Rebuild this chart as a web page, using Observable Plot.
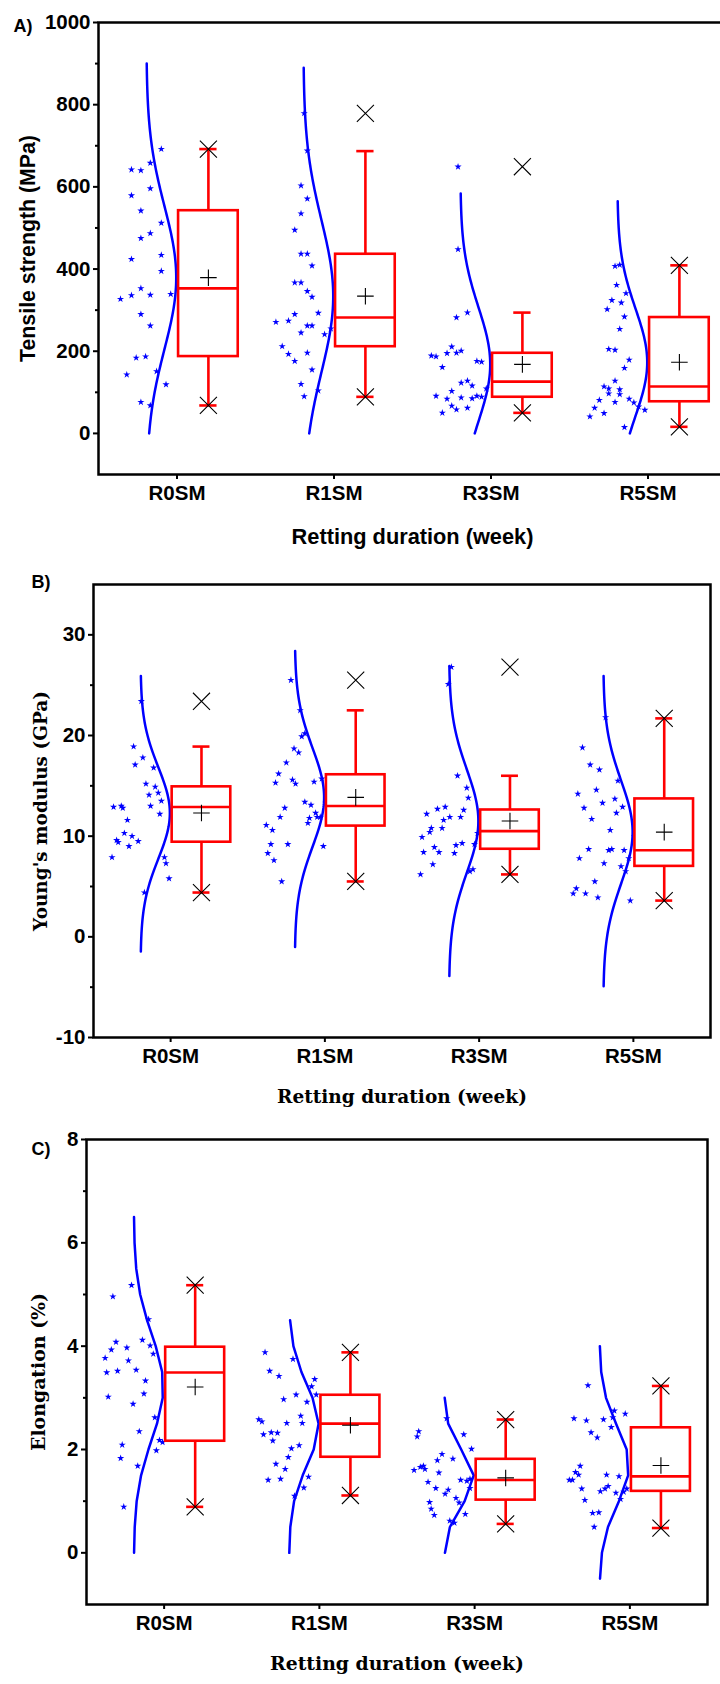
<!DOCTYPE html>
<html><head><meta charset="utf-8">
<script src="https://cdn.jsdelivr.net/npm/d3@7"></script>
<script src="https://cdn.jsdelivr.net/npm/@observablehq/plot@0.6"></script>
<style>
html,body{margin:0;padding:0;background:#fff;}
#chart svg{display:block;}
</style></head><body><div id="chart"></div>
<script>
// ---------- categories ----------
const groups = ["R0SM", "R1SM", "R3SM", "R5SM"];

// ---------- Panel A: tensile strength (MPa) — individual fibres [value, horizontal jitter] ----------
const tsR0SM = [[692,-0.10],[642,-0.29],[640,-0.23],[658,-0.17],[579,-0.29],[596,-0.17],[542,-0.23],[512,-0.10],[475,-0.23],[487,-0.17],[424,-0.29],[434,-0.10],[395,-0.10],[327,-0.36],[336,-0.29],[353,-0.23],[337,-0.17],[339,-0.04],[290,-0.23],[262,-0.17],[184,-0.26],[187,-0.20],[143,-0.32],[151,-0.13],[119,-0.07],[76,-0.23],[68,-0.17]];
const tsR1SM = [[779,-0.19],[688,-0.17],[603,-0.21],[571,-0.17],[535,-0.21],[495,-0.25],[437,-0.21],[437,-0.17],[408,-0.14],[367,-0.25],[367,-0.21],[346,-0.17],[332,-0.14],[290,-0.25],[293,-0.10],[271,-0.37],[274,-0.29],[262,-0.17],[262,-0.14],[245,-0.21],[241,-0.06],[255,-0.02],[212,-0.33],[193,-0.29],[176,-0.25],[196,-0.17],[155,-0.14],[120,-0.21],[104,-0.10],[90,-0.19]];
const tsR3SM = [[649,-0.21],[448,-0.21],[282,-0.22],[294,-0.15],[211,-0.25],[189,-0.38],[187,-0.35],[195,-0.28],[196,-0.22],[201,-0.19],[161,-0.31],[176,-0.09],[174,-0.06],[123,-0.19],[128,-0.15],[116,-0.12],[109,-0.03],[91,-0.35],[84,-0.28],[87,-0.19],[85,-0.12],[91,-0.09],[89,-0.06],[103,-0.25],[67,-0.25],[58,-0.22],[62,-0.15],[50,-0.31]];
const tsR5SM = [[407,-0.21],[410,-0.18],[361,-0.20],[341,-0.14],[324,-0.23],[318,-0.17],[302,-0.26],[284,-0.15],[254,-0.18],[205,-0.25],[203,-0.21],[179,-0.12],[159,-0.15],[128,-0.21],[114,-0.28],[109,-0.25],[107,-0.18],[97,-0.25],[95,-0.18],[84,-0.12],[75,-0.09],[65,-0.06],[57,-0.02],[81,-0.31],[62,-0.34],[41,-0.37],[49,-0.28],[76,-0.21],[15,-0.15]];
const tsQ1 = [187, 211, 88, 77];
const tsMed = [353, 282, 126, 114];
const tsQ3 = [542, 436, 195, 282];
const tsWLo = [68, 89, 50, 16];
const tsWHi = [692, 687, 294, 409];
const tsMin = [68, 89, 50, 16];
const tsMax = [692, 779, 649, 409];
const tsMean = [379, 334, 168, 173];
const tsSD = [174, 185, 139, 131];
const tsCurveLo = [0, 0, 0, 0];
const tsCurveHi = [900, 890, 584, 565];
const tsTicks = [0, 200, 400, 600, 800, 1000];
const tsMinor = [100, 300, 500, 700, 900];

// ---------- Panel B: Young's modulus (GPa) ----------
const ymR0SM = [[23.4,-0.19],[18.9,-0.24],[17.8,-0.18],[17.1,-0.23],[16.8,-0.11],[15.2,-0.16],[14.9,-0.10],[14.1,-0.14],[14.3,-0.08],[13.5,-0.06],[13.0,-0.13],[12.2,-0.07],[12.9,-0.37],[13.0,-0.32],[12.8,-0.31],[11.6,-0.28],[10.3,-0.30],[10.0,-0.25],[9.5,-0.21],[9.6,-0.35],[9.4,-0.34],[9.0,-0.27],[7.9,-0.38],[7.9,-0.04],[7.3,-0.03],[5.8,-0.01],[4.4,-0.17]];
const ymR1SM = [[25.5,-0.22],[22.5,-0.16],[20.2,-0.13],[19.9,-0.15],[18.7,-0.20],[18.3,-0.17],[17.3,-0.25],[16.2,-0.30],[15.3,-0.32],[15.6,-0.21],[15.2,-0.19],[15.4,-0.07],[15.7,-0.02],[13.4,-0.13],[13.1,-0.09],[12.8,-0.26],[11.9,-0.29],[12.3,-0.06],[11.9,-0.05],[11.9,-0.03],[11.8,-0.10],[11.3,-0.11],[11.1,-0.38],[10.6,-0.34],[9.2,-0.35],[9.2,-0.24],[9.0,-0.01],[8.3,-0.37],[7.6,-0.33],[5.5,-0.28]];
const ymR3SM = [[26.8,-0.18],[25.1,-0.20],[16.0,-0.14],[14.8,-0.08],[13.8,-0.07],[12.6,-0.10],[12.9,-0.22],[12.7,-0.27],[12.2,-0.34],[11.6,-0.23],[11.9,-0.19],[11.9,-0.12],[10.8,-0.24],[10.8,-0.31],[10.4,-0.32],[9.9,-0.37],[10.3,-0.01],[9.2,-0.03],[9.3,-0.11],[9.1,-0.15],[8.9,-0.29],[8.4,-0.26],[8.4,-0.36],[8.3,-0.16],[7.2,-0.30],[6.2,-0.38],[6.7,-0.04],[6.5,-0.06]];
const ymR5SM = [[21.8,-0.18],[18.8,-0.33],[17.1,-0.28],[16.6,-0.22],[15.5,-0.10],[14.2,-0.36],[14.6,-0.24],[13.7,-0.12],[13.3,-0.20],[12.8,-0.32],[12.9,-0.07],[12.3,-0.11],[11.7,-0.27],[10.6,-0.15],[8.7,-0.29],[8.6,-0.16],[8.7,-0.14],[8.6,-0.06],[7.8,-0.03],[7.8,-0.35],[7.3,-0.19],[7.0,-0.08],[6.5,-0.05],[5.5,-0.25],[4.8,-0.37],[4.3,-0.39],[4.3,-0.31],[3.9,-0.23],[3.6,-0.02]];
const ymQ1 = [9.4, 11.0, 8.7, 7.0];
const ymMed = [12.9, 13.0, 10.5, 8.6];
const ymQ3 = [14.9, 16.1, 12.6, 13.7];
const ymWLo = [4.4, 5.5, 6.2, 3.6];
const ymWHi = [18.9, 22.5, 16.0, 21.7];
const ymMin = [4.4, 5.5, 6.2, 3.6];
const ymMax = [23.4, 25.5, 26.8, 21.7];
const ymMean = [12.3, 13.85, 11.5, 10.4];
const ymSD = [4.55, 4.9, 5.13, 5.13];
const ymCurveLo = [-1.45, -1.0, -3.9, -4.9];
const ymCurveHi = [25.9, 28.4, 26.9, 25.9];
const ymTicks = [-10, 0, 10, 20, 30];
const ymMinor = [-5, 5, 15, 25];

// ---------- Panel C: elongation (%) ----------
const elR0SM = [[5.18,-0.21],[4.96,-0.33],[4.52,-0.10],[4.08,-0.31],[3.93,-0.34],[3.97,-0.24],[4.12,-0.14],[4.01,-0.09],[3.85,-0.07],[3.77,-0.38],[3.72,-0.23],[3.49,-0.37],[3.52,-0.30],[3.54,-0.18],[3.33,-0.12],[3.08,-0.13],[3.02,-0.36],[2.88,-0.20],[2.62,-0.06],[2.35,-0.16],[2.18,-0.03],[2.14,-0.01],[1.98,-0.05],[2.09,-0.27],[1.83,-0.28],[1.68,-0.17],[0.89,-0.26]];
const elR1SM = [[3.88,-0.35],[3.75,-0.17],[3.52,-0.32],[3.42,-0.26],[3.36,-0.03],[3.22,-0.05],[3.06,-0.15],[3.06,-0.02],[2.97,-0.23],[2.92,-0.08],[2.58,-0.39],[2.54,-0.37],[2.51,-0.21],[2.51,-0.11],[2.65,-0.12],[2.29,-0.36],[2.33,-0.31],[2.32,-0.27],[2.17,-0.30],[2.08,-0.13],[2.02,-0.18],[1.85,-0.20],[1.72,-0.28],[1.62,-0.22],[1.41,-0.33],[1.43,-0.25],[1.47,-0.07],[1.26,-0.10],[1.10,-0.16]];
const elR3SM = [[2.35,-0.36],[2.25,-0.37],[2.60,-0.18],[2.29,-0.07],[2.01,-0.02],[1.91,-0.21],[1.79,-0.24],[1.82,-0.14],[1.60,-0.39],[1.66,-0.35],[1.68,-0.33],[1.62,-0.32],[1.55,-0.23],[1.41,-0.09],[1.39,-0.05],[1.43,-0.03],[1.37,-0.30],[1.25,-0.25],[1.25,-0.03],[1.22,-0.17],[1.14,-0.19],[1.06,-0.12],[0.97,-0.10],[0.98,-0.29],[0.85,-0.28],[0.73,-0.26],[0.75,-0.06],[0.62,-0.16],[0.58,-0.13]];
const elR5SM = [[3.24,-0.27],[2.60,-0.36],[2.56,-0.28],[2.58,-0.17],[2.75,-0.10],[2.69,-0.03],[2.62,-0.11],[2.43,-0.12],[2.33,-0.25],[2.23,-0.21],[1.68,-0.32],[1.56,-0.35],[1.51,-0.33],[1.41,-0.39],[1.41,-0.37],[1.51,-0.15],[1.48,-0.07],[1.24,-0.31],[1.19,-0.19],[1.24,-0.16],[1.29,-0.14],[1.16,-0.09],[1.18,-0.04],[1.24,-0.02],[1.04,-0.06],[1.02,-0.29],[0.77,-0.24],[0.78,-0.20],[0.50,-0.23]];
const elQ1 = [2.16, 1.85, 1.02, 1.19];
const elMed = [3.49, 2.50, 1.41, 1.48];
const elQ3 = [3.98, 3.05, 1.81, 2.42];
const elWLo = [0.89, 1.11, 0.56, 0.48];
const elWHi = [5.18, 3.88, 2.58, 3.23];
const elMin = [0.89, 1.11, 0.56, 0.48];
const elMax = [5.18, 3.88, 2.58, 3.23];
const elMean = [3.21, 2.47, 1.45, 1.69];
const elSD = [1.02, 0.78, 0.52, 0.75];
const elCurveLo = [0, 0, 0, -0.5];
const elCurveHi = [6.5, 4.5, 3.0, 4.0];
const elTicks = [0, 2, 4, 6, 8];
const elMinor = [1, 3, 5, 7];

// ---------- styling ----------
const SANS = "'Liberation Sans', Arial, Helvetica, sans-serif";
const SERIF = "'DejaVu Serif', Cambria, Georgia, serif";
const BLUE = "#0000ff", RED = "#ff0000";
const BOX_OFF = 0.2, BOX_HW = 0.19, CAP_HW = 0.055;
const CURVE_BASE = -0.195, CURVE_AMP = 0.19;
const TICK_FONT = 20.5;

// font size that makes a bold title span a given pixel length
const measureCtx = document.createElement("canvas").getContext("2d");
function fitSize(text, family, targetWidth) {
  measureCtx.font = `bold 100px ${family}`;
  return 100 * targetWidth / measureCtx.measureText(text).width;
}

function panel(c) {
  const starRows = c.stars.flatMap((arr, i) => arr.map(([v, dx]) => ({g: i + 1, v, dx})));
  const boxRows = groups.map((name, i) => ({
    g: i + 1, q1: c.q1[i], med: c.med[i], q3: c.q3[i], wlo: c.wlo[i], whi: c.whi[i],
    mn: c.mn[i], mx: c.mx[i], mean: c.mean[i]
  }));
  const curveRows = groups.flatMap((name, i) => {
    const vs = d3.range(c.clo[i], c.chi[i] + c.step * 0.01, c.step);
    if (vs[vs.length - 1] < c.chi[i] - 1e-9) vs.push(c.chi[i]);
    return vs.map(v => ({g: i + 1, v,
      x: i + 1 + CURVE_BASE + CURVE_AMP * Math.exp(-0.5 * ((v - c.mean[i]) / c.sd[i]) ** 2)}));
  });
  const bx = d => d.g + BOX_OFF;
  const yTitleSize = fitSize(c.yTitle, c.titleFont, c.yTitleLen);
  const xTitleSize = fitSize(c.xTitle, c.titleFont, c.xTitleLen);
  return Plot.plot({
    width: 720, height: c.height,
    marginTop: c.mt, marginBottom: c.mb, marginLeft: c.ml, marginRight: c.mr,
    style: {fontFamily: SANS, fontSize: TICK_FONT + "px", fontWeight: "bold", background: "white", color: "black"},
    x: {type: "linear", domain: [0.5, 4.5], axis: null, label: null},
    y: {type: "linear", domain: c.yDomain, axis: null, label: null},
    marks: [
      Plot.dot(starRows, {x: d => d.g + d.dx, y: "v", symbol: "star", r: 2.25, fill: BLUE, stroke: "none"}),
      Plot.line(curveRows, {x: "x", y: "v", z: "g", stroke: BLUE, strokeWidth: 2.5, curve: "linear"}),
      Plot.rect(boxRows, {x1: d => bx(d) - BOX_HW, x2: d => bx(d) + BOX_HW, y1: "q1", y2: "q3",
        fill: "none", stroke: RED, strokeWidth: 2.6}),
      Plot.ruleY(boxRows, {y: "med", x1: d => bx(d) - BOX_HW, x2: d => bx(d) + BOX_HW, stroke: RED, strokeWidth: 2.6}),
      Plot.ruleX(boxRows, {x: bx, y1: "q3", y2: "whi", stroke: RED, strokeWidth: 2.6}),
      Plot.ruleX(boxRows, {x: bx, y1: "wlo", y2: "q1", stroke: RED, strokeWidth: 2.6}),
      Plot.ruleY(boxRows, {y: "whi", x1: d => bx(d) - CAP_HW, x2: d => bx(d) + CAP_HW, stroke: RED, strokeWidth: 2.6}),
      Plot.ruleY(boxRows, {y: "wlo", x1: d => bx(d) - CAP_HW, x2: d => bx(d) + CAP_HW, stroke: RED, strokeWidth: 2.6}),
      Plot.dot(boxRows, {x: bx, y: "mx", symbol: "times", r: 7.8, stroke: "black", strokeWidth: 1.1}),
      Plot.dot(boxRows, {x: bx, y: "mn", symbol: "times", r: 7.8, stroke: "black", strokeWidth: 1.1}),
      Plot.dot(boxRows, {x: bx, y: "mean", symbol: "plus", r: 5.4, stroke: "black", strokeWidth: 1.1}),
      Plot.frame({stroke: "black", strokeWidth: 2.5}),
      Plot.axisY({ticks: c.yTicks, tickFormat: d => String(d), label: null, tickSize: 5, tickPadding: 3,
        strokeWidth: 2, fontSize: TICK_FONT, fontWeight: "bold", fontFamily: SANS}),
      Plot.axisY({ticks: c.yMinor, tickFormat: () => "", label: null, tickSize: 3, strokeWidth: 2}),
      Plot.axisX({ticks: [1, 2, 3, 4], tickFormat: d => groups[d - 1], label: null, tickSize: 5, tickPadding: 6,
        strokeWidth: 2, fontSize: TICK_FONT, fontWeight: "bold", fontFamily: SANS}),
      Plot.text([c.yTitle], {frameAnchor: "left", rotate: -90, dx: c.yTitleDx, textAnchor: "middle",
        fontFamily: c.titleFont, fontSize: yTitleSize, fontWeight: "bold", fill: "black"}),
      Plot.text([c.xTitle], {frameAnchor: "bottom", dy: c.xTitleDy, textAnchor: "middle",
        fontFamily: c.titleFont, fontSize: xTitleSize, fontWeight: "bold", fill: "black"}),
      Plot.text([c.tag], {frameAnchor: "top-left", dx: c.tagDx, dy: c.tagDy, textAnchor: "start",
        fontFamily: SANS, fontSize: 18, fontWeight: "bold", fill: "black"})
    ]
  });
}

const chart = document.getElementById("chart");
chart.append(panel({
  stars: [tsR0SM, tsR1SM, tsR3SM, tsR5SM],
  q1: tsQ1, med: tsMed, q3: tsQ3, wlo: tsWLo, whi: tsWHi, mn: tsMin, mx: tsMax, mean: tsMean,
  sd: tsSD, clo: tsCurveLo, chi: tsCurveHi, step: 5,
  yDomain: [-100, 1000], yTicks: tsTicks, yMinor: tsMinor,
  height: 560, mt: 22, mb: 86, ml: 98, mr: -6,
  yTitle: "Tensile strength (MPa)", xTitle: "Retting duration (week)", titleFont: SANS,
  yTitleLen: 227, xTitleLen: 242, yTitleDx: -70, xTitleDy: 69,
  tag: "A)", tagDx: -85, tagDy: -3.5
}));
chart.append(panel({
  stars: [ymR0SM, ymR1SM, ymR3SM, ymR5SM],
  q1: ymQ1, med: ymMed, q3: ymQ3, wlo: ymWLo, whi: ymWHi, mn: ymMin, mx: ymMax, mean: ymMean,
  sd: ymSD, clo: ymCurveLo, chi: ymCurveHi, step: 0.2,
  yDomain: [-10, 35], yTicks: ymTicks, yMinor: ymMinor,
  height: 555, mt: 24, mb: 78, ml: 93, mr: 10,
  yTitle: "Young's modulus (GPa)", xTitle: "Retting duration (week)", titleFont: SERIF,
  yTitleLen: 240, xTitleLen: 250, yTitleDx: -52.5, xTitleDy: 65,
  tag: "B)", tagDx: -62, tagDy: -9
}));
chart.append(panel({
  stars: [elR0SM, elR1SM, elR3SM, elR5SM],
  q1: elQ1, med: elMed, q3: elQ3, wlo: elWLo, whi: elWHi, mn: elMin, mx: elMax, mean: elMean,
  sd: elSD, clo: elCurveLo, chi: elCurveHi, step: 0.5,
  yDomain: [-1, 8], yTicks: elTicks, yMinor: elMinor,
  height: 569, mt: 24, mb: 80, ml: 86, mr: 13,
  yTitle: "Elongation (%)", xTitle: "Retting duration (week)", titleFont: SERIF,
  yTitleLen: 158, xTitleLen: 254, yTitleDx: -48, xTitleDy: 65,
  tag: "C)", tagDx: -55, tagDy: 2.6
}));
</script>
</body></html>
